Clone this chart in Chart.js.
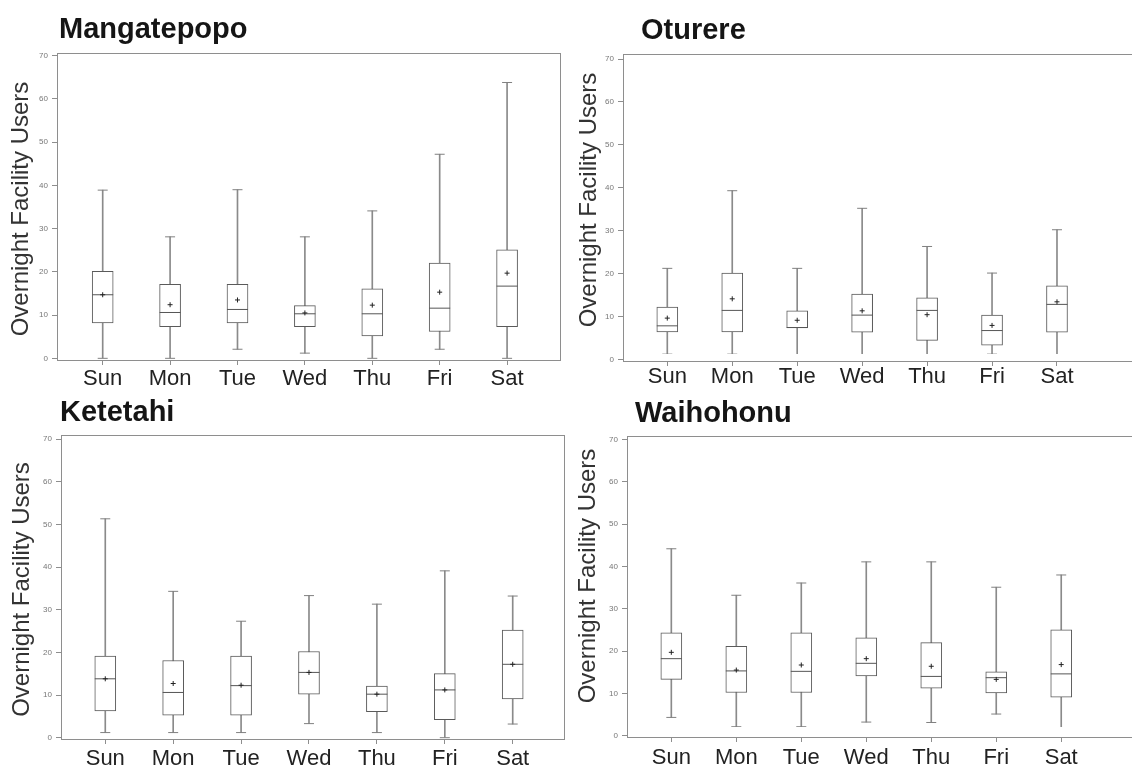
<!DOCTYPE html>
<html>
<head>
<meta charset="utf-8">
<script src="https://cdn.jsdelivr.net/npm/chart.js@4.4.0/dist/chart.umd.min.js"></script>
<style>
html,body{margin:0;padding:0;background:#fff;overflow:hidden;width:1132px;height:770px;position:relative}
canvas{position:absolute}
</style>
</head>
<body>
<canvas id="c1"></canvas>
<canvas id="c2"></canvas>
<canvas id="c3"></canvas>
<canvas id="c4"></canvas>
<script>
// ---------- DATA ----------
const days = ['Sun','Mon','Tue','Wed','Thu','Fri','Sat'];
const yTickValues = [0,10,20,30,40,50,60,70];
const yAxisTitle = 'Overnight Facility Users';

const mangatepopoMin    = [0, 0, 2.1, 1.2, 0, 2.1, 0];
const mangatepopoQ1     = [8.2, 7.3, 8.2, 7.3, 5.2, 6.2, 7.3];
const mangatepopoMedian = [14.7, 10.6, 11.3, 10.3, 10.3, 11.6, 16.7];
const mangatepopoQ3     = [20.1, 17.1, 17.1, 12.2, 16.1, 22.0, 25.1];
const mangatepopoMax    = [38.9, 28.1, 39.0, 28.1, 34.1, 47.2, 63.8];
const mangatepopoMean   = [14.7, 12.4, 13.5, 10.5, 12.3, 15.3, 19.7];

const oturereMin    = [1.2, 1.2, 0, 0, 0, 1.2, 0];
const oturereQ1     = [6.4, 6.4, 7.4, 6.3, 4.4, 3.3, 6.3];
const oturereMedian = [7.8, 11.4, 7.4, 10.3, 11.4, 6.7, 12.8];
const oturereQ3     = [12.2, 20.1, 11.3, 15.2, 14.3, 10.3, 17.1];
const oturereMax    = [21.2, 39.3, 21.2, 35.2, 26.3, 20.1, 30.2];
const oturereMean   = [9.6, 14.1, 9.1, 11.3, 10.4, 7.9, 13.4];

const ketetahiMin    = [1.2, 1.2, 1.2, 3.3, 1.2, 0, 3.2];
const ketetahiQ1     = [6.3, 5.3, 5.3, 10.2, 6.1, 4.2, 9.1];
const ketetahiMedian = [13.8, 10.6, 12.2, 15.3, 10.2, 11.2, 17.2];
const ketetahiQ3     = [19.1, 18.1, 19.1, 20.2, 12.1, 15.0, 25.2];
const ketetahiMax    = [51.3, 34.3, 27.3, 33.3, 31.3, 39.1, 33.2];
const ketetahiMean   = [13.8, 12.7, 12.3, 15.3, 10.2, 11.2, 17.2];

const waihohonuMin    = [4.3, 2.1, 2.1, 3.2, 3.1, 5.1, 0.8];
const waihohonuQ1     = [13.3, 10.2, 10.2, 14.1, 11.2, 10.1, 9.1];
const waihohonuMedian = [18.2, 15.3, 15.2, 17.1, 14.0, 13.7, 14.6];
const waihohonuQ3     = [24.3, 21.1, 24.3, 23.1, 22.0, 15.1, 25.0];
const waihohonuMax    = [44.2, 33.2, 36.1, 41.1, 41.1, 35.1, 38.0];
const waihohonuMean   = [19.7, 15.5, 16.7, 18.2, 16.4, 13.3, 16.8];

// ---------- LAYOUT ----------
const FONT = "'Liberation Sans', Arial, Helvetica, sans-serif";
const panels = [
  {id:'c1', title:'Mangatepopo', min:mangatepopoMin, q1:mangatepopoQ1, median:mangatepopoMedian, q3:mangatepopoQ3, max:mangatepopoMax, mean:mangatepopoMean,
   canvas:{left:0, top:0, w:566, h:392}, area:{l:57, t:53, r:561, b:361},
   titleDx:2, titleMid:30, yTitlePad:7, yTitleShift:-2, xLabelPad:3,
   xRange:[-0.678, 6.80], yRange:[-0.62, 70.62]},
  {id:'c2', title:'Oturere', min:oturereMin, q1:oturereQ1, median:oturereMedian, q3:oturereQ3, max:oturereMax, mean:oturereMean,
   canvas:{left:566, top:0, w:600, h:392}, area:{l:623, t:54, r:1160, b:362},
   titleDx:18, titleMid:31, yTitlePad:8.5, yTitleShift:8, xLabelPad:0,
   xRange:[-0.682, 7.586], yRange:[-0.63, 71.17]},
  {id:'c3', title:'Ketetahi', min:ketetahiMin, q1:ketetahiQ1, median:ketetahiMedian, q3:ketetahiQ3, max:ketetahiMax, mean:ketetahiMean,
   canvas:{left:0, top:385, w:570, h:385}, area:{l:61, t:435, r:565, b:740},
   titleDx:-1, titleMid:413, yTitlePad:8, yTitleShift:-2, xLabelPad:4,
   xRange:[-0.652, 6.77], yRange:[-0.54, 70.94]},
  {id:'c4', title:'Waihohonu', min:waihohonuMin, q1:waihohonuQ1, median:waihohonuMedian, q3:waihohonuQ3, max:waihohonuMax, mean:waihohonuMean,
   canvas:{left:566, top:385, w:600, h:385}, area:{l:627, t:436, r:1160, b:738},
   titleDx:8, titleMid:414, yTitlePad:8, yTitleShift:11, xLabelPad:5,
   xRange:[-0.682, 7.52], yRange:[-0.57, 70.88]}
];

// ---------- PLUGINS ----------
const framePlugin = {
  id:'frame',
  beforeDatasetsDraw(chart){
    const {ctx, chartArea:a} = chart;
    ctx.save();
    ctx.strokeStyle = '#8e8e8e';
    ctx.lineWidth = 1;
    const l = Math.round(a.left)+0.5, t = Math.round(a.top)+0.5;
    const r = Math.round(a.right)-0.5, b = Math.round(a.bottom)-0.5;
    ctx.strokeRect(l, t, r-l, b-t);
    ctx.restore();
  }
};
const shiftPlugin = {
  id:'shift',
  afterLayout(chart, args, opts){
    const tb = chart.titleBlock;
    if (tb){ tb.left += opts.titleDx; tb.right += opts.titleDx; }
    const y = chart.scales.y;
    y.top -= opts.yTitleShift; y.bottom -= opts.yTitleShift;
  }
};

function build(p){
  const cv = document.getElementById(p.id);
  cv.width = p.canvas.w; cv.height = p.canvas.h;
  cv.style.left = p.canvas.left + 'px'; cv.style.top = p.canvas.top + 'px';
  const yW = p.area.l - p.canvas.left;
  const topH = p.area.t - p.canvas.top;
  const xH = p.canvas.top + p.canvas.h - p.area.b;
  const padR = p.canvas.left + p.canvas.w - p.area.r;
  const tSize = 29;
  const tPadTop = p.titleMid - p.canvas.top - tSize/2;
  const tPadBottom = topH - tSize - tPadTop;
  const pts = arr => arr.map((v,i) => ({x:i, y:v}));
  const rng = (a,b) => a.map((v,i) => ({x:i, y:[v, b[i]]}));

  new Chart(cv, {
    type:'bar',
    data:{
      datasets:[
        {type:'bar', label:'Whisker', data:rng(p.min, p.max), backgroundColor:'#8a8a8a', borderWidth:0, barThickness:1, grouped:false, order:6},
        {type:'bar', label:'Interquartile range', data:rng(p.q1, p.q3), backgroundColor:'#ffffff', borderColor:'#5a5a5a', borderWidth:1, borderSkipped:false, barThickness:21, grouped:false, order:5},
        {type:'line', label:'Median', data:pts(p.median), showLine:false, pointStyle:'line', pointRadius:10.5, pointBorderColor:'#555', pointBorderWidth:1, borderColor:'#555', order:4},
        {type:'line', label:'Minimum', data:pts(p.min), showLine:false, pointStyle:'line', pointRadius:5, pointBorderColor:'#808080', pointBorderWidth:1, borderColor:'#808080', order:3},
        {type:'line', label:'Maximum', data:pts(p.max), showLine:false, pointStyle:'line', pointRadius:5, pointBorderColor:'#808080', pointBorderWidth:1, borderColor:'#808080', order:2},
        {type:'line', label:'Mean', data:pts(p.mean), showLine:false, pointStyle:'cross', pointRadius:2.5, pointBorderColor:'#222', pointBorderWidth:1, borderColor:'#222', order:1}
      ]
    },
    options:{
      responsive:false, animation:false, events:[],
      layout:{autoPadding:false, padding:{left:0, right:padR, top:0, bottom:0}},
      plugins:{
        legend:{display:false}, tooltip:{enabled:false},
        title:{display:true, text:p.title, align:'start', fullSize:false, color:'#151515',
               font:{family:FONT, size:tSize, weight:'bold', lineHeight:1},
               padding:{top:tPadTop, bottom:tPadBottom}},
        shift:{titleDx:p.titleDx, yTitleShift:p.yTitleShift}
      },
      scales:{
        x:{type:'linear', min:p.xRange[0], max:p.xRange[1], offset:false,
           afterBuildTicks:s => { s.ticks = days.map((d,i) => ({value:i})); },
           afterFit:s => { s.height = xH; s.paddingLeft = 0; s.paddingRight = 0; },
           ticks:{callback:v => days[v], color:'#222', font:{family:FONT, size:22, lineHeight:1}, padding:p.xLabelPad, maxRotation:0, autoSkip:false},
           grid:{display:true, offset:false, drawOnChartArea:false, drawTicks:true, tickLength:4, color:'#8e8e8e'},
           border:{display:false}},
        y:{type:'linear', min:p.yRange[0], max:p.yRange[1],
           afterBuildTicks:s => { s.ticks = yTickValues.map(v => ({value:v})); },
           afterFit:s => { s.width = yW; },
           ticks:{color:'#777', font:{family:FONT, size:8}, padding:4},
           grid:{drawOnChartArea:false, drawTicks:true, tickLength:5, color:'#8e8e8e'},
           border:{display:false},
           title:{display:true, text:yAxisTitle, color:'#333', font:{family:FONT, size:24, lineHeight:1.2}, padding:{top:p.yTitlePad, bottom:0}}}
      }
    },
    plugins:[framePlugin, shiftPlugin]
  });
}
panels.forEach(build);
</script>
</body>
</html>
